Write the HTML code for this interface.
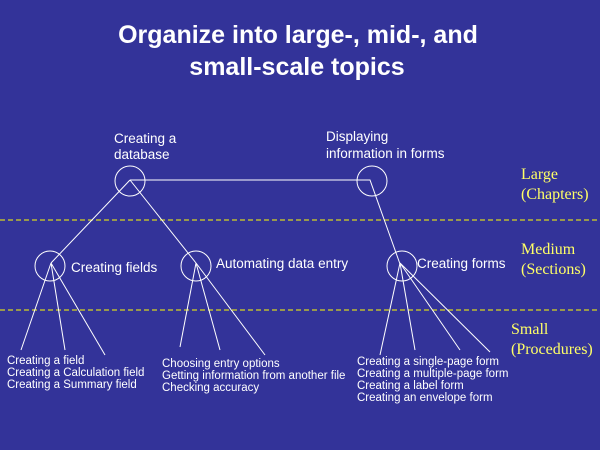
<!DOCTYPE html>
<html><head><style>
body{margin:0;width:600px;height:450px;background:#333399;overflow:hidden}
svg{display:block}
text{font-family:"Liberation Sans",sans-serif;fill:#fff}
.y{font-family:"Liberation Serif",serif;fill:#ffff66;font-size:16px}
</style></head><body>
<svg width="600" height="450" viewBox="0 0 600 450">
<text x="298" y="43" text-anchor="middle" font-size="25" font-weight="bold">Organize into large-, mid-, and</text>
<text x="297" y="75" text-anchor="middle" font-size="25" font-weight="bold">small-scale topics</text>
<g stroke="#ffff00" stroke-width="1" stroke-dasharray="5,3">
<line x1="0" y1="220" x2="600" y2="220"/><line x1="0" y1="310" x2="600" y2="310"/>
</g>
<g stroke="#fff" stroke-width="1" fill="none">
<circle cx="130" cy="181" r="15"/><circle cx="372" cy="181" r="15"/>
<circle cx="50" cy="266" r="15"/><circle cx="196" cy="266" r="15"/><circle cx="402" cy="266" r="15"/>
<polyline points="130,180 370,180 400,264"/>
<line x1="130" y1="180" x2="51" y2="263"/><line x1="130" y1="180" x2="196" y2="263"/>
<line x1="51" y1="263" x2="21" y2="350"/><line x1="51" y1="263" x2="65" y2="350"/><line x1="51" y1="263" x2="105" y2="355"/>
<line x1="196" y1="263" x2="180" y2="347"/><line x1="196" y1="263" x2="220" y2="350"/><line x1="196" y1="263" x2="265" y2="355"/>
<line x1="400" y1="263" x2="380" y2="355"/><line x1="400" y1="263" x2="415" y2="350"/><line x1="400" y1="263" x2="460" y2="350"/><line x1="400" y1="263" x2="490" y2="352"/>
</g>
<g font-size="13.5">
<text x="114" y="143">Creating a</text><text x="114" y="159">database</text>
<text x="326" y="141">Displaying</text><text x="326" y="158">information in forms</text>
<text x="71" y="272">Creating fields</text>
<text x="216" y="268">Automating data entry</text>
<text x="417" y="268">Creating forms</text>
</g>
<g font-size="11.5">
<text x="7" y="364">Creating a field</text><text x="7" y="376">Creating a Calculation field</text><text x="7" y="388">Creating a Summary field</text>
<text x="162" y="367">Choosing entry options</text><text x="162" y="379">Getting information from another file</text><text x="162" y="391">Checking accuracy</text>
<text x="357" y="365">Creating a single-page form</text><text x="357" y="377">Creating a multiple-page form</text><text x="357" y="389">Creating a label form</text><text x="357" y="401">Creating an envelope form</text>
</g>
<text class="y" x="521" y="179">Large</text><text class="y" x="521" y="199">(Chapters)</text>
<text class="y" x="521" y="254">Medium</text><text class="y" x="521" y="274">(Sections)</text>
<text class="y" x="511" y="334">Small</text><text class="y" x="511" y="354">(Procedures)</text>
</svg>
</body></html>
